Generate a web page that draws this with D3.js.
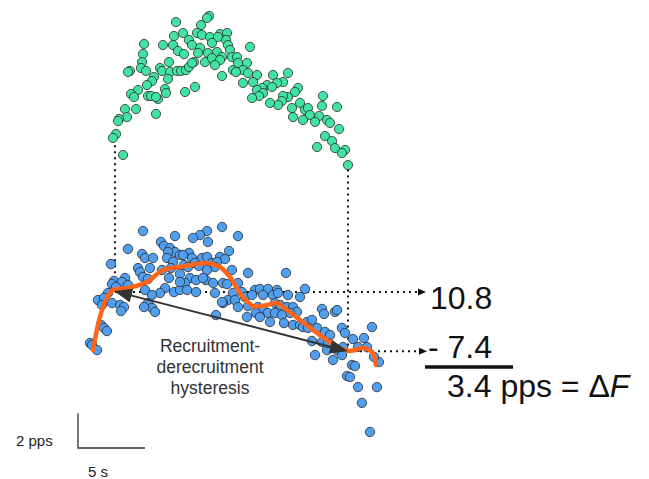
<!DOCTYPE html>
<html>
<head>
<meta charset="utf-8">
<script src="https://cdnjs.cloudflare.com/ajax/libs/d3/7.8.5/d3.min.js"></script>
<style>
  body { margin: 0; background: #fff; }
  text { font-family: "Liberation Sans", Arial, sans-serif; }
</style>
</head>
<body>
<script>
// Firing rate (pps) vs time (s) for two motor units
// [time s, rate pps]
var greenUnit = [
  [9.63,14.83],[9.48,14.71],[7.16,14.48],[9.03,14.31],[7.69,13.85],[7.01,13.68],[8.73,13.85],[9.10,13.74],
  [8.13,13.45],[9.70,13.62],[10.45,13.79],[10.97,13.85],[10.30,13.62],[10.90,13.45],[4.78,13.22],[6.19,13.16],
  [6.94,13.16],[8.36,13.16],[9.85,13.28],[11.04,13.16],[7.31,12.82],[7.76,12.64],[8.96,12.99],[8.81,12.70],
  [9.55,12.70],[10.22,12.76],[10.60,12.47],[11.19,12.87],[11.34,12.47],[4.70,12.64],[4.63,12.18],[6.64,12.18],
  [8.51,12.18],[9.33,12.18],[9.85,12.41],[10.45,12.30],[10.07,12.01],[4.55,11.84],[4.93,11.67],[3.73,11.67],
  [3.58,11.61],[5.97,11.84],[6.12,11.67],[6.72,11.61],[7.24,11.67],[7.54,11.67],[7.91,11.72],[8.13,11.90],
  [8.36,12.13],[11.42,11.72],[10.60,11.38],[5.52,11.32],[5.37,11.09],[6.57,11.21],[5.00,10.86],[4.33,10.57],
  [3.81,10.34],[4.03,10.17],[6.34,10.63],[6.42,10.40],[8.58,10.75],[7.84,10.46],[5.07,10.23],[5.30,10.23],
  [5.82,10.06],[5.67,10.17],[4.18,9.48],[3.36,9.48],[3.51,9.02],[2.91,8.91],[2.84,8.79],[5.67,9.20],
  [2.69,8.05],[2.46,7.82],[3.21,6.84],
  [12.69,13.05],[11.72,12.47],[12.46,12.13],[11.79,12.13],[12.16,11.72],[11.64,11.61],[12.54,11.55],[13.21,11.44],
  [12.16,10.98],[12.91,11.03],[14.40,11.44],[15.52,11.55],[15.15,11.03],[13.96,10.86],[14.70,10.98],[14.33,10.75],
  [13.58,10.69],[13.21,10.57],[13.66,10.40],[13.36,10.23],[12.84,10.11],[16.27,10.69],[16.04,10.46],[15.52,10.17],
  [15.15,10.23],[15.07,9.94],[14.78,9.71],[14.18,9.83],[18.13,10.23],[16.42,9.83],[15.82,9.54],[16.79,9.43],
  [17.01,9.54],[18.06,9.66],[19.18,9.60],[17.16,9.14],[17.84,9.08],[15.90,9.02],[16.64,8.85],[17.54,8.74],
  [18.43,8.85],[18.66,8.68],[19.33,8.33],[18.28,7.93],[18.81,7.64],[17.69,7.30],[19.03,7.24],[19.78,7.13],
  [19.55,6.95],[20.00,6.26]
];

var blueUnit = [
  [4.70,14.31],[7.09,14.02],[6.04,13.68],[6.27,13.45],[6.72,13.33],[7.09,13.10],[6.57,13.10],[3.58,13.28],
  [4.63,12.99],[4.85,12.76],[5.45,12.76],[6.49,12.76],[7.46,12.93],[6.94,12.53],[2.31,12.41],[4.33,12.18],
  [4.48,11.95],[5.22,12.18],[6.79,12.18],[6.12,12.07],[6.64,11.61],[4.70,11.67],[5.07,11.55],[3.36,11.61],
  [7.46,11.84],[2.54,11.44],[3.13,11.38],[2.39,11.26],[2.69,11.09],[3.58,11.21],[6.34,11.03],[7.01,10.80],
  [5.97,10.75],[4.85,10.92],[5.37,10.63],[2.09,10.75],[1.34,10.34],[1.79,10.46],[1.64,10.06],[2.39,10.17],
  [2.99,10.06],[3.28,9.94],[5.07,10.17],[5.37,9.89],[5.60,9.66],[4.78,9.94],[3.06,9.71],[1.57,8.91],
  [1.79,8.74],[2.01,8.56],[0.75,7.87],[0.90,7.76],[1.27,7.47],
  [10.60,14.54],[11.79,14.02],[9.48,14.31],[8.96,14.08],[8.43,13.91],[9.55,13.68],[11.12,13.16],[8.13,13.05],
  [7.69,12.93],[8.36,12.76],[9.10,12.76],[8.58,12.47],[9.48,12.82],[10.45,12.82],[10.82,12.70],[9.85,12.47],
  [10.22,12.53],[7.76,12.36],[8.06,12.24],[8.88,12.30],[10.07,12.24],[11.34,12.07],[12.54,11.90],[9.48,12.07],
  [8.21,11.61],[8.66,11.49],[9.40,11.49],[9.93,11.32],[9.18,11.61],[10.67,11.32],[7.84,11.32],[7.46,10.92],
  [7.99,10.92],[8.66,10.80],[10.07,10.75],[10.97,11.26],[11.79,11.32],[12.09,10.80],[13.06,10.92],[13.43,10.98],
  [14.03,10.98],[14.70,10.92],[11.42,10.75],[11.04,10.34],[11.57,10.34],[12.31,10.52],[12.84,10.63],[13.66,10.63],
  [14.40,10.63],[10.67,10.17],[11.79,9.94],[12.54,10.00],[13.28,9.94],[13.66,9.77],[13.13,9.60],[14.03,9.60],
  [14.55,9.60],[12.46,9.37],[13.43,9.37],[14.18,9.08],[10.15,9.48],[10.60,10.23],[7.46,11.38],
  [15.37,11.90],[16.79,10.98],[16.42,10.52],[14.78,10.75],[15.52,10.63],[14.55,10.17],[14.93,10.06],[15.45,9.94],
  [15.90,9.94],[16.19,9.66],[15.67,9.60],[15.07,9.48],[15.22,9.02],[15.90,8.91],[16.42,8.91],[16.94,9.08],
  [17.31,9.20],[16.64,8.79],[17.01,8.74],[17.69,8.74],[18.06,9.83],[18.21,9.54],[19.03,9.66],[19.18,9.77],
  [18.28,8.51],[18.66,8.33],[17.31,7.99],[18.06,7.93],[19.55,8.74],[19.78,8.45],[20.37,8.10],[21.19,8.16],
  [21.79,8.79],[18.43,7.47],[19.63,7.64],[20.75,7.64],[21.42,7.64],[18.51,7.87],[19.18,7.47],[18.88,6.90],
  [17.54,7.18],[19.55,7.18],[20.30,6.61],[20.52,6.55],[22.31,6.78],[21.94,7.07],[19.93,5.98],[20.15,5.92],
  [20.75,5.34],[22.16,5.34],[21.04,4.43],[21.64,2.76]
];

// smoothed rate of the blue unit
var blueFit = [
  [0.97,7.47],[1.49,9.37],[2.01,10.46],[2.46,10.92],[3.51,11.03],[5.00,11.38],[6.19,12.07],[7.46,12.24],
  [9.48,12.47],[10.45,12.24],[11.19,11.67],[11.94,10.75],[12.91,10.00],[13.96,10.06],[14.70,10.17],[15.45,9.77],
  [16.42,9.20],[17.39,8.62],[18.43,8.05],[19.40,7.59],[20.15,7.41],[21.12,7.59],[21.79,7.36],[22.09,6.61]
];

var recruitTime = 2.61, derecruitTime = 20.0;
var recruitRate = 10.8, derecruitRate = 7.4;
var greenOnset = 7.4, greenOffset = 6.0;
var deltaF = recruitRate - derecruitRate;

var width = 649, height = 479;

var x = d3.scaleLinear().domain([0, 40]).range([80, 616]);
var yBlue = d3.scaleLinear().domain([0, 20]).range([480, 132]);
var yGreen = d3.scaleLinear().domain([0, 20]).range([274, -74]);

var svg = d3.select('body').append('svg')
    .attr('width', width).attr('height', height);

// filled triangle with its tip at (tx,ty), pointing away from (fx,fy)
var arrowHead = function(fx, fy, tx, ty, len, half, col) {
    var a = Math.atan2(ty - fy, tx - fx);
    var bx = tx - len * Math.cos(a), by = ty - len * Math.sin(a);
    var px = -Math.sin(a) * half, py = Math.cos(a) * half;
    svg.append('path')
        .attr('d', 'M' + tx + ',' + ty + 'L' + (bx + px) + ',' + (by + py) +
                   'L' + (bx - px) + ',' + (by - py) + 'Z')
        .style('fill', col);
};

// dotted guide lines
var dotted = function(x1, y1, x2, y2, head) {
    svg.append('line')
        .attr('x1', x1).attr('y1', y1).attr('x2', head ? x2 - 6 : x2).attr('y2', y2)
        .style('stroke', '#111').style('stroke-width', 2)
        .style('stroke-dasharray', '2,4');
    if (head) arrowHead(x1, y1, x2, y2, 8, 3.5, '#111');
};
dotted(x(recruitTime), yGreen(greenOnset), x(recruitTime), yBlue(recruitRate), false);
dotted(x(derecruitTime), yGreen(greenOffset), x(derecruitTime), yBlue(derecruitRate), false);
dotted(x(recruitTime), yBlue(recruitRate), 426, yBlue(recruitRate), true);
dotted(x(derecruitTime), yBlue(derecruitRate), 427, yBlue(derecruitRate), true);

// the two units
svg.append('g').selectAll('circle').data(greenUnit).enter()
    .append('circle')
    .attr('cx', function(d) { return x(d[0]); })
    .attr('cy', function(d) { return yGreen(d[1]); })
    .attr('r', 4.6)
    .style('fill', '#41e3a3').style('stroke', '#2a2a2a').style('stroke-width', 0.8);

svg.append('g').selectAll('circle').data(blueUnit).enter()
    .append('circle')
    .attr('cx', function(d) { return x(d[0]); })
    .attr('cy', function(d) { return yBlue(d[1]); })
    .attr('r', 4.7)
    .style('fill', '#4f9ef0').style('stroke', '#2a2a2a').style('stroke-width', 0.8);

var line = d3.line()
    .x(function(d) { return x(d[0]); })
    .y(function(d) { return yBlue(d[1]); })
    .curve(d3.curveCatmullRom.alpha(0.5));
svg.append('path').datum(blueFit)
    .attr('d', line)
    .style('fill', 'none').style('stroke', '#ff6418').style('stroke-width', 4.5)
    .style('stroke-linecap', 'round');

// hysteresis arrow
var ax1 = x(recruitTime) - 1, ay1 = yBlue(recruitRate) - 1,
    ax2 = x(derecruitTime), ay2 = yBlue(derecruitRate);
svg.append('line')
    .attr('x1', ax1 + 10).attr('y1', ay1 + 10 * (ay2 - ay1) / (ax2 - ax1))
    .attr('x2', ax2 - 10).attr('y2', ay2 - 10 * (ay2 - ay1) / (ax2 - ax1))
    .style('stroke', '#333').style('stroke-width', 2);
arrowHead(ax2, ay2, ax1, ay1, 18, 7, '#333');
arrowHead(ax1, ay1, ax2, ay2, 18, 7, '#333');

var label = svg.append('text').attr('text-anchor', 'middle')
    .style('font-size', '17.5px').style('fill', '#333');
['Recruitment-', 'derecruitment', 'hysteresis'].forEach(function(s, i) {
    label.append('tspan').attr('x', 210).attr('y', 352 + i * 21).text(s);
});

// subtraction
svg.append('text').attr('x', 430).attr('y', 309)
    .style('font-size', '32px').style('fill', '#111').text(d3.format('.1f')(recruitRate));
svg.append('text').attr('x', 428).attr('y', 358)
    .style('font-size', '32px').style('fill', '#111').text('- ' + d3.format('.1f')(derecruitRate));
svg.append('line').attr('x1', 425).attr('x2', 513).attr('y1', 367).attr('y2', 367)
    .style('stroke', '#111').style('stroke-width', 3.5);
var res = svg.append('text').attr('x', 447).attr('y', 397)
    .style('font-size', '32px').style('fill', '#111');
res.append('tspan').text(d3.format('.1f')(deltaF) + ' pps = \u0394');
res.append('tspan').style('font-style', 'italic').text('F');

// scale bar: 5 s by 2 pps
var sx = 78, sy = 448;
svg.append('path')
    .attr('d', 'M' + sx + ',' + (sy - (yBlue(0) - yBlue(2))) + 'V' + sy + 'H' + (sx + x(5) - x(0)))
    .style('fill', 'none').style('stroke', '#333').style('stroke-width', 1.3);
svg.append('text').attr('x', 16).attr('y', 446)
    .style('font-size', '15px').style('fill', '#222').text('2 pps');
svg.append('text').attr('x', 98).attr('y', 477).attr('text-anchor', 'middle')
    .style('font-size', '15px').style('fill', '#222').text('5 s');
</script>
</body>
</html>
